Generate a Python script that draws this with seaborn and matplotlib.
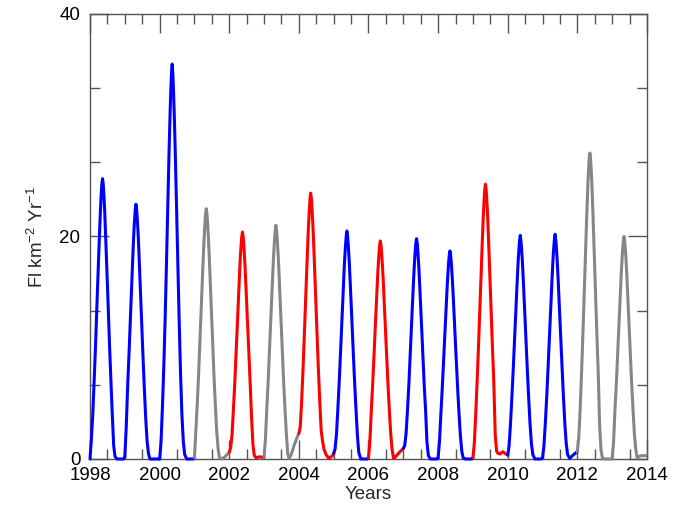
import pandas as pd
import matplotlib
matplotlib.use("Agg")
import matplotlib.pyplot as plt
from matplotlib.ticker import MultipleLocator
import seaborn as sns

# one seasonal curve per year, colour per year as in the original
years = [1998, 1999, 2000, 2001, 2002, 2003, 2004, 2005,
         2006, 2007, 2008, 2009, 2010, 2011, 2012, 2013]
year_colour = ["blue", "blue", "blue", "grey", "red", "grey", "red", "blue",
               "red", "blue", "blue", "red", "blue", "blue", "grey", "grey"]

# sample times inside each year (fraction of the year)
offsets = [0.00, 0.04, 0.08, 0.12, 0.16, 0.20, 0.24, 0.27, 0.30, 0.32, 0.34, 0.36, 0.38,
           0.40, 0.42, 0.45, 0.48, 0.52, 0.56, 0.60, 0.64, 0.68, 0.72, 0.78, 0.86, 0.97]

# Fl km-2 Yr-1
flux_1998 = [0.0, 1.8, 4.0, 7.1, 10.3, 13.9, 17.4, 20.0, 22.4, 23.7, 24.7, 25.2, 24.7,
             23.7, 22.4, 20.0, 17.4, 13.9, 10.3, 7.1, 4.0, 1.2, 0.2, 0.0, 0.0, 0.0]
flux_1999 = [0.2, 2.8, 6.4, 9.4, 12.6, 15.8, 19.0, 21.0, 22.4, 22.9, 22.4, 21.5, 20.4,
             19.0, 17.4, 15.0, 12.6, 9.4, 6.4, 3.7, 1.6, 0.5, 0.0, 0.0, 0.0, 0.0]
flux_2000 = [0.0, 1.5, 4.6, 8.3, 12.8, 18.0, 23.5, 27.5, 31.0, 33.0, 34.6, 35.5, 34.6,
             33.0, 31.0, 27.5, 23.5, 18.0, 12.6, 7.8, 4.0, 1.6, 0.4, 0.0, 0.0, 0.0]
flux_2001 = [0.1, 2.5, 4.9, 7.6, 10.8, 13.9, 17.1, 19.3, 21.1, 22.0, 22.5, 22.0, 21.1,
             20.0, 18.6, 16.3, 13.9, 10.8, 7.6, 4.9, 2.5, 0.9, 0.1, 0.0, 0.15, 0.5]
flux_2002 = [0.6, 1.0, 2.2, 4.5, 6.9, 9.8, 12.6, 14.8, 16.9, 18.2, 19.2, 20.0, 20.4,
             20.0, 19.2, 17.5, 15.5, 12.6, 9.8, 6.9, 3.8, 1.3, 0.3, 0.1, 0.2, 0.15]
flux_2003 = [0.2, 1.8, 4.6, 7.1, 10.1, 13.0, 15.9, 18.0, 19.7, 20.5, 21.0, 20.5, 19.7,
             18.6, 17.4, 15.2, 13.0, 10.1, 7.1, 4.6, 2.3, 0.5, 0.05, 0.4, 1.2, 2.1]
flux_2004 = [2.3, 2.9, 5.2, 8.1, 11.4, 14.8, 18.1, 20.5, 22.4, 23.4, 23.9, 23.4, 22.4,
             21.2, 19.8, 17.3, 14.8, 11.4, 8.1, 5.2, 2.6, 1.6, 0.9, 0.4, 0.05, 0.3]
flux_2005 = [0.5, 0.9, 2.2, 4.5, 7.0, 9.8, 12.7, 14.8, 17.0, 18.2, 19.2, 20.0, 20.5,
             20.0, 19.2, 17.6, 15.5, 12.7, 9.8, 7.0, 4.5, 2.2, 0.6, 0.0, 0.0, 0.0]
flux_2006 = [0.1, 1.6, 4.3, 6.7, 9.4, 12.2, 14.9, 16.9, 18.4, 19.2, 19.6, 19.2, 18.4,
             17.4, 16.3, 14.2, 12.2, 9.4, 6.7, 4.3, 2.2, 0.8, 0.05, 0.2, 0.5, 0.85]
flux_2007 = [0.95, 1.2, 2.3, 4.4, 6.7, 9.5, 12.3, 14.4, 16.4, 17.6, 18.6, 19.4, 19.8,
             19.4, 18.6, 17.0, 15.0, 12.3, 9.5, 6.7, 4.4, 1.5, 0.3, 0.0, 0.0, 0.0]
flux_2008 = [0.1, 1.6, 4.1, 6.4, 9.0, 11.6, 14.2, 16.1, 17.6, 18.3, 18.7, 18.3, 17.6,
             16.6, 15.5, 13.6, 11.6, 9.0, 6.4, 4.1, 2.1, 0.7, 0.1, 0.0, 0.0, 0.0]
flux_2009 = [0.1, 1.4, 4.0, 6.9, 10.1, 13.6, 17.0, 19.6, 22.0, 23.2, 24.2, 24.7, 24.2,
             23.2, 22.0, 19.6, 17.0, 13.6, 10.1, 6.9, 2.2, 0.7, 0.5, 0.45, 0.65, 0.4]
flux_2010 = [0.35, 1.2, 3.2, 5.6, 8.2, 11.0, 13.8, 15.9, 17.8, 18.8, 19.6, 20.1, 19.6,
             18.8, 17.8, 15.9, 13.8, 11.0, 8.2, 5.6, 3.2, 1.4, 0.4, 0.0, 0.0, 0.0]
flux_2011 = [0.1, 1.2, 3.2, 5.6, 8.3, 11.1, 13.9, 16.0, 17.9, 18.9, 19.7, 20.2, 19.7,
             18.9, 17.9, 16.0, 13.9, 11.1, 8.3, 5.6, 3.2, 1.4, 0.4, 0.05, 0.3, 0.6]
flux_2012 = [0.65, 1.9, 4.4, 7.7, 11.3, 15.1, 19.0, 21.9, 24.5, 25.9, 27.0, 27.5, 27.0,
             25.9, 24.5, 21.9, 19.0, 15.1, 11.3, 7.7, 3.0, 0.8, 0.1, 0.0, 0.0, 0.0]
flux_2013 = [0.0, 1.5, 4.4, 6.8, 9.6, 12.4, 15.2, 17.2, 18.8, 19.6, 20.0, 19.6, 18.8,
             17.8, 16.6, 14.5, 12.4, 9.6, 6.8, 4.4, 2.2, 0.8, 0.1, 0.25, 0.3, 0.3]

flux_by_year = [flux_1998, flux_1999, flux_2000, flux_2001, flux_2002, flux_2003,
                flux_2004, flux_2005, flux_2006, flux_2007, flux_2008, flux_2009,
                flux_2010, flux_2011, flux_2012, flux_2013]

colour_map = {"blue": "#0000ff", "red": "#ff0000", "grey": "#868686"}

# long table; each year also takes the next year's first sample so the curve is joined
rows = []
for i, (yr, vals) in enumerate(zip(years, flux_by_year)):
    for off, v in zip(offsets, vals):
        rows.append((yr + off, v, yr))
    if i + 1 < len(years):
        rows.append((years[i + 1] + offsets[0], flux_by_year[i + 1][0], yr))
df = pd.DataFrame(rows, columns=["Time", "Flux", "Year"])

sns.set_style("ticks")
plt.rcParams["font.family"] = ["Liberation Sans", "DejaVu Sans"]
plt.rcParams["mathtext.fontset"] = "custom"
plt.rcParams["mathtext.rm"] = "Liberation Sans"
plt.rcParams["mathtext.it"] = "Liberation Sans:italic"

fig = plt.figure(figsize=(6.95, 5.05), dpi=100)
ax = fig.add_axes([0.1295, 0.0911, 0.8014, 0.8812])

palette = {yr: colour_map[c] for yr, c in zip(years, year_colour)}
sns.lineplot(data=df, x="Time", y="Flux", hue="Year", palette=palette,
             estimator=None, sort=False, legend=False, linewidth=2.2, ax=ax)
for line in ax.lines:
    line.set_clip_on(False)
    line.set_zorder(3)
    line.set_solid_joinstyle("round")

ax.set_xlim(1998, 2014)
ax.set_ylim(0, 40)
ax.xaxis.set_major_locator(MultipleLocator(2))
ax.xaxis.set_minor_locator(MultipleLocator(0.5))
ax.yaxis.set_major_locator(MultipleLocator(20))
ax.yaxis.set_minor_locator(MultipleLocator(20 / 3))

for sp in ax.spines.values():
    sp.set_visible(True)
    sp.set_color("#555555")
    sp.set_linewidth(1.0)

ax.tick_params(which="both", direction="in", top=True, right=True,
               color="#555555", labelcolor="black", labelsize=13.5, width=1.0)
ax.tick_params(which="major", length=14)
ax.tick_params(which="minor", length=7)
ax.tick_params(axis="x", pad=6)
ax.tick_params(axis="y", pad=7)

ax.set_xlabel("Years", fontsize=13.5, labelpad=1)
ax.set_ylabel(r"Fl km$^{-2}$ Yr$^{-1}$", fontsize=13.5, labelpad=9)

fig.savefig("out.png", dpi=100)
